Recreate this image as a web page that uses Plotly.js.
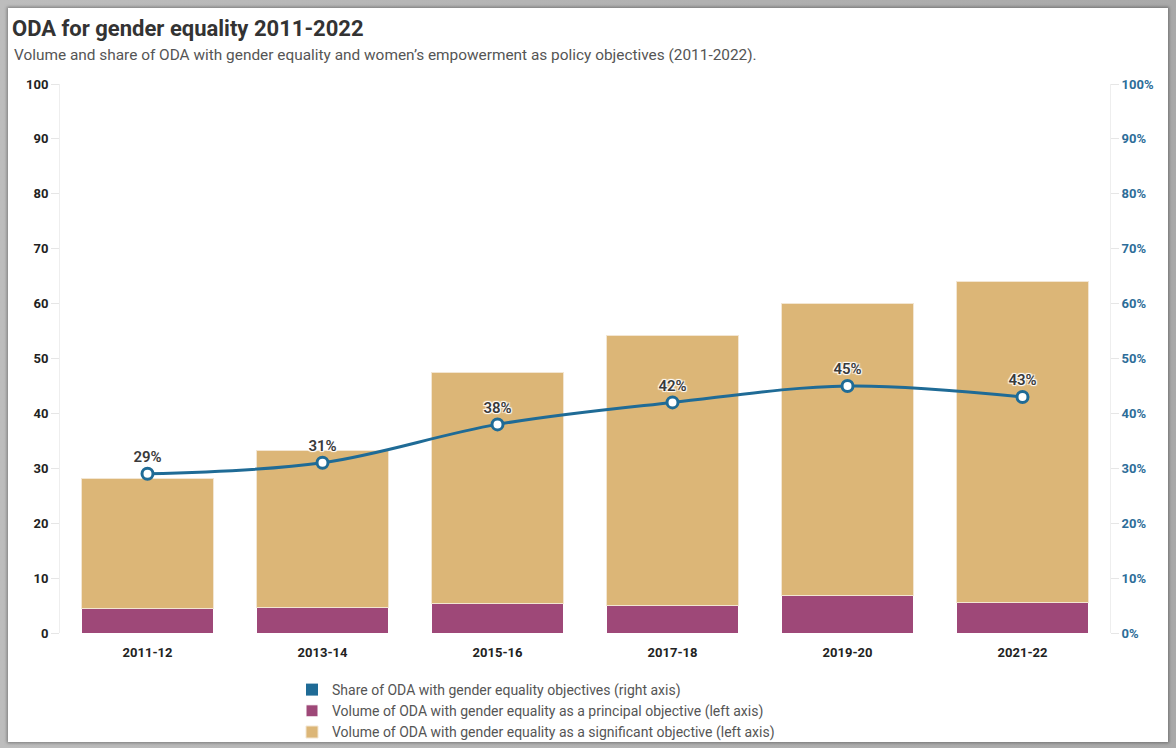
<!DOCTYPE html>
<html>
<head>
<meta charset="utf-8">
<script src="https://cdn.plot.ly/plotly-3.0.1.min.js"></script>
<style>
  html, body { margin: 0; padding: 0; background: #ffffff; width: 1176px; height: 748px; overflow: hidden; }
  #frame { position: absolute; left: 0; top: 0; width: 1176px; height: 748px;
           background: linear-gradient(to right, #bdbdbd, #a9a9a9); }
  #card { position: absolute; left: 8px; top: 8px; width: 1160px; height: 734px; background: #fff;
          box-shadow: 0 0 3px 1px rgba(0,0,0,0.35); }
  #chart { width: 1160px; height: 734px; }
</style>
</head>
<body>
<div id="frame"></div>
<div id="card"><div id="chart"></div></div>
<script>
const periods = ["2011-12", "2013-14", "2015-16", "2017-18", "2019-20", "2021-22"];
const principal = [4.4, 4.6, 5.3, 5.1, 6.9, 5.6];
const significant = [23.8, 28.7, 42.2, 49.0, 53.2, 58.5];
const sharePct = [29, 31, 38, 42, 45, 43];

const seriesNames = [
  "Share of ODA with gender equality objectives (right axis)",
  "Volume of ODA with gender equality as a principal objective (left axis)",
  "Volume of ODA with gender equality as a significant objective (left axis)"
];
const colShare = "#1f6b96";
const colPrincipal = "#9e4878";
const colSignificant = "#dcb677";

const FONT = "Roboto, 'Noto Sans', sans-serif";

const traces = [
  // legend swatch for the share line (square, as in the reference)
  { type: "bar", x: [null], y: [null], name: seriesNames[0], marker: { color: colShare },
    showlegend: true, hoverinfo: "skip" },
  { type: "bar", x: periods, y: principal, name: seriesNames[1], marker: { color: colPrincipal, line: { color: "#ffffff", width: 1 } },
    width: 0.75 },
  { type: "bar", x: periods, y: significant, name: seriesNames[2], marker: { color: colSignificant, line: { color: "#f3e6d2", width: 1 } },
    width: 0.75 },
  { type: "scatter", x: periods, y: sharePct, yaxis: "y2", name: seriesNames[0], showlegend: false,
    mode: "lines+markers+text", line: { color: colShare, width: 3, shape: "spline", smoothing: 1 },
    marker: { size: 11, color: "#ffffff", line: { color: colShare, width: 3 } },
    text: sharePct.map(v => v + "%"), textposition: "top center",
    textfont: { family: FONT, size: 15, color: "#3a3a3a", weight: 600,
                shadow: "1px 1px 1px #fff, -1px -1px 1px #fff, 1px -1px 1px #fff, -1px 1px 1px #fff" },
    cliponaxis: false }
];

const layout = {
  width: 1160, height: 734,
  margin: { l: 52, r: 58, t: 76, b: 109 },
  paper_bgcolor: "#ffffff", plot_bgcolor: "#ffffff",
  barmode: "stack",
  font: { family: FONT, color: "#333" },
  title: { text: "ODA for gender equality 2011-2022", font: { family: FONT, size: 22, color: "#333", weight: 700 },
           xref: "container", x: 4 / 1160, xanchor: "left", yref: "container", y: 1 - 20 / 734, yanchor: "middle" },
  annotations: [
    { text: "Volume and share of ODA with gender equality and women’s empowerment as policy objectives (2011-2022).",
      xref: "paper", yref: "paper", x: -48 / 1050, y: 1 + 29 / 549, xanchor: "left", yanchor: "middle",
      showarrow: false, font: { family: FONT, size: 15.4, color: "#555" } }
  ],
  xaxis: { type: "category", showline: false, ticks: "", showgrid: false, zeroline: false,
           tickfont: { family: FONT, size: 13, color: "#222", weight: 700 }, ticklabelstandoff: 10 },
  yaxis: { range: [0, 100], dtick: 10, showgrid: false, zeroline: false, showline: true, linecolor: "#eeeeee",
           ticks: "outside", ticklen: 8, tickcolor: "#e6e6e6",
           tickfont: { family: FONT, size: 13, color: "#222", weight: 700 } },
  yaxis2: { range: [0, 100], dtick: 10, overlaying: "y", side: "right", showgrid: false, zeroline: false,
            showline: true, linecolor: "#eeeeee", ticks: "outside", ticklen: 8, tickcolor: "#e6e6e6",
            ticksuffix: "%", tickfont: { family: FONT, size: 13, color: "#2d6d99", weight: 700 } },
  showlegend: true,
  legend: { orientation: "v", xref: "paper", x: (292 - 60) / 1050, xanchor: "left",
            yref: "container", y: 1 - (674 - 8) / 734, yanchor: "top",
            traceorder: "normal", font: { family: FONT, size: 14, color: "#555" },
            bgcolor: "rgba(0,0,0,0)", itemclick: false, tracegroupgap: 0 }
};

Plotly.newPlot("chart", traces, layout, { displayModeBar: false, staticPlot: true });
</script>
</body>
</html>
